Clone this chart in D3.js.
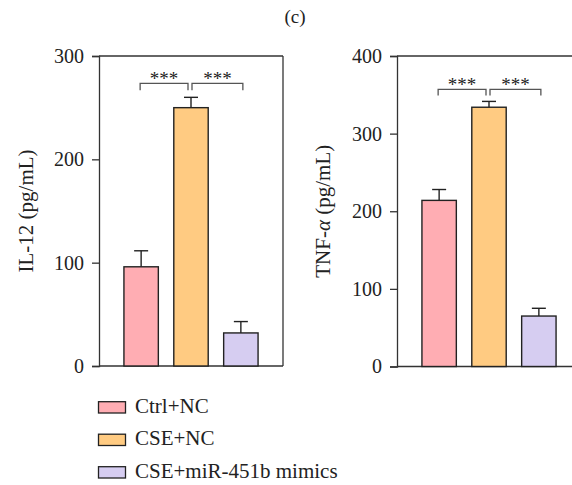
<!DOCTYPE html>
<html>
<head>
<meta charset="utf-8">
<script src="https://cdn.jsdelivr.net/npm/d3@7/dist/d3.min.js"></script>
<style>
  html, body { margin: 0; padding: 0; background: #fff; }
  svg { display: block; }
  text { font-family: "Liberation Serif", "Times New Roman", serif; fill: #222; }
</style>
</head>
<body>
<svg id="chart" width="572" height="485"></svg>
<script>
// ---- data ----
const groups = ["Ctrl+NC", "CSE+NC", "CSE+miR-451b mimics"];
const colors = ["#FFADB3", "#FFCB82", "#D6CDF1"];
const il12Mean = [96, 250, 32];
const il12Err = [15.5, 10, 11];
const tnfMean = [214, 334, 65];
const tnfErr = [14, 7.5, 10];
const il12Ticks = [0, 100, 200, 300];
const tnfTicks = [0, 100, 200, 300, 400];
const sigLabel = "***";

const svg = d3.select("#chart");

// title
svg.append("text").attr("x", 295).attr("y", 23).attr("text-anchor", "middle")
  .style("font-size", "19px").text("(c)");

function panel(opts) {
  const { x0, x1, yMax, ticks, means, errs, labelX, labelParts, yBottom, yTop, boxRight, bracketGap, legH } = opts;
  const g = svg.append("g");
  const x = d3.scaleBand().domain(groups).range([x0, x1]).paddingInner(0.31).paddingOuter(0.5);
  const y = d3.scaleLinear().domain([0, yMax]).range([yBottom, yTop]);

  // frame: top and right lines
  g.append("line").attr("x1", x0).attr("x2", boxRight).attr("y1", yTop).attr("y2", yTop)
    .attr("stroke", "#333").attr("stroke-width", 1.3);
  if (boxRight < 572) {
    g.append("line").attr("x1", boxRight).attr("x2", boxRight).attr("y1", yTop).attr("y2", yBottom)
      .attr("stroke", "#333").attr("stroke-width", 1.3);
  }
  // bottom axis line
  g.append("line").attr("x1", x0).attr("x2", boxRight).attr("y1", yBottom).attr("y2", yBottom)
    .attr("stroke", "#333").attr("stroke-width", 1.3);

  // y axis
  const ax = g.append("g").attr("transform", `translate(${x0},0)`)
    .call(d3.axisLeft(y).tickValues(ticks).tickSize(7).tickPadding(8).tickFormat(d3.format("d")));
  ax.select(".domain").attr("stroke", "#333").attr("stroke-width", 1.3);
  ax.selectAll(".tick line").attr("stroke", "#333").attr("stroke-width", 1.3);
  ax.selectAll(".tick text").style("font-size", "20px").style("font-family", "'Liberation Serif', serif").attr("fill", "#222");

  // error bars (upper only)
  const eb = g.append("g");
  groups.forEach((grp, i) => {
    const cx = x(grp) + x.bandwidth() / 2;
    eb.append("line").attr("x1", cx).attr("x2", cx).attr("y1", y(means[i])).attr("y2", y(means[i] + errs[i]))
      .attr("stroke", "#222").attr("stroke-width", 1.4);
    eb.append("line").attr("x1", cx - 7).attr("x2", cx + 7).attr("y1", y(means[i] + errs[i])).attr("y2", y(means[i] + errs[i]))
      .attr("stroke", "#222").attr("stroke-width", 1.4);
  });

  // bars
  g.selectAll("rect.bar").data(groups).enter().append("rect")
    .attr("x", d => x(d)).attr("width", x.bandwidth())
    .attr("y", (d, i) => y(means[i])).attr("height", (d, i) => yBottom - y(means[i]))
    .attr("fill", (d, i) => colors[i]).attr("stroke", "#222").attr("stroke-width", 1.4);

  // significance brackets
  const c = groups.map(d => x(d) + x.bandwidth() / 2);
  const topErr = Math.max(...means.map((m, i) => m + errs[i]));
  const by = y(topErr) - bracketGap;
  const pairs = [[c[0] - 1, c[1] - 3], [c[1] + 1, c[2] + 2]];
  pairs.forEach(([a, b]) => {
    g.append("path").attr("d", `M${a},${by + legH}V${by}H${b}V${by + legH}`)
      .attr("fill", "none").attr("stroke", "#555").attr("stroke-width", 1.3);
    g.append("text").attr("x", (a + b) / 2).attr("y", by + 2).attr("text-anchor", "middle")
      .style("font-size", "19px").attr("fill", "#555").text(sigLabel);
  });

  // y label
  const lab = g.append("text").attr("transform", `translate(${labelX},${(yTop + yBottom) / 2}) rotate(-90)`)
    .attr("text-anchor", "middle").style("font-size", "21px");
  labelParts.forEach(p => {
    const t = lab.append("tspan").text(p.t);
    if (p.i) t.style("font-style", "italic");
  });
}

panel({ x0: 99, x1: 283, boxRight: 283, yMax: 300, ticks: il12Ticks, means: il12Mean, errs: il12Err,
  labelX: 33, labelParts: [{ t: "IL-12 (pg/mL)" }], yBottom: 366, yTop: 56, bracketGap: 14, legH: 7 });
panel({ x0: 397, x1: 581, boxRight: 572, yMax: 400, ticks: tnfTicks, means: tnfMean, errs: tnfErr,
  labelX: 330, labelParts: [{ t: "TNF-" }, { t: "α", i: true }, { t: " (pg/mL)" }], yBottom: 366.5, yTop: 56, bracketGap: 12, legH: 6 });

// legend
const leg = svg.append("g");
groups.forEach((grp, i) => {
  const yy = 401.7 + i * 32.5;
  leg.append("rect").attr("x", 98.5).attr("y", yy).attr("width", 27).attr("height", 11.3)
    .attr("fill", colors[i]).attr("stroke", "#222").attr("stroke-width", 1.3);
  leg.append("text").attr("x", 135).attr("y", yy + 10.8).style("font-size", "21px").text(grp);
});
</script>
</body>
</html>
